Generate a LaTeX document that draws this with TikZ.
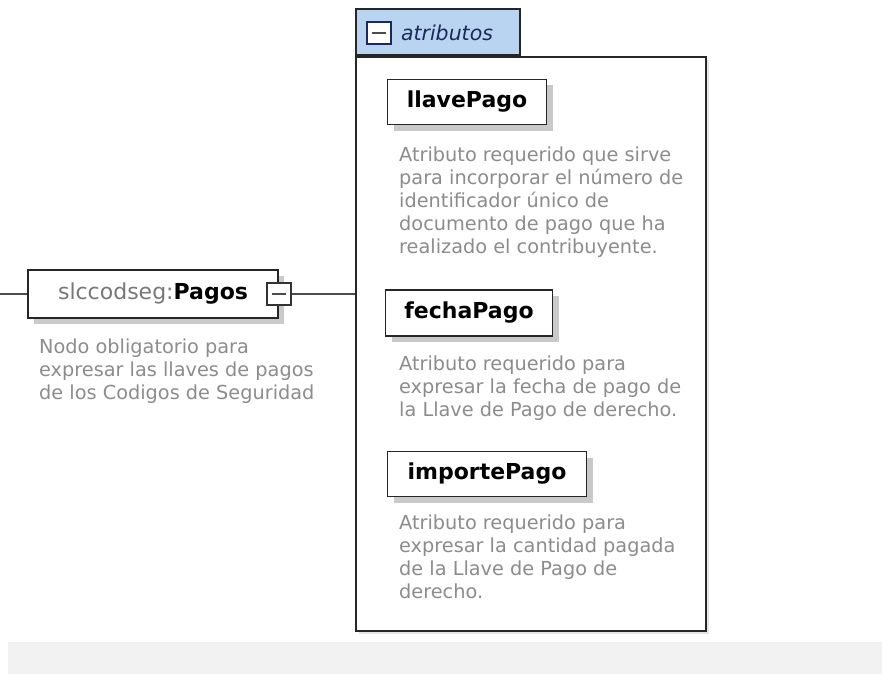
\documentclass[tikz,border=0pt]{standalone}
\usepackage{fontspec}
\setmainfont{DejaVu Sans}
\usepackage{xcolor}
\usetikzlibrary{positioning, shadows}

\definecolor{descgray}{RGB}{140,140,140}
\definecolor{nsgray}{RGB}{120,120,120}
\definecolor{tabblue}{RGB}{184,212,240}
\definecolor{tabtext}{RGB}{30,40,90}
\definecolor{bandgray}{RGB}{242,242,242}

\begin{document}
\begin{tikzpicture}[
      x=1pt, y=-1pt,
      elem/.style={rectangle, draw=black!85, line width=1.9pt, fill=white,
                   inner sep=0pt, font=\fontsize{22}{26}\selectfont\bfseries,
                   drop shadow={shadow xshift=6pt, shadow yshift=-6pt,
                                fill=black!35, opacity=0.6}},
      desc/.style={anchor=north west, inner sep=0pt, align=left,
                   text=descgray, font=\fontsize{19.3}{23}\selectfont},
      minbox/.style={rectangle, draw=black!80, line width=1.6pt, fill=white,
                     minimum width=24, minimum height=22, inner sep=0pt,
                     path picture={\draw[line width=1.8pt, black!70]
                       ([xshift=5pt]path picture bounding box.west) --
                       ([xshift=-5pt]path picture bounding box.east);}},
      wire/.style={line width=1.9pt, black!70}
    ]
    % Frame and bottom band
    \useasboundingbox (0,0) rectangle (882,674);
    \fill[bandgray] (8,642) rectangle (882,674);

    % Attributes group
    \node[rectangle, draw=black!85, line width=1.9pt, fill=white,
          minimum width=350, minimum height=574, anchor=north west, inner sep=0pt,
          drop shadow={shadow xshift=3pt, shadow yshift=-3pt, fill=black!20, opacity=0.5}]
          (grp) at (355,56) {};
    \node[rectangle, draw=black!85, line width=1.9pt, fill=tabblue,
          minimum width=164, minimum height=46, anchor=south west, inner sep=0pt]
          (tab) at (grp.north west) {};
    \node[minbox, draw=tabtext] (tabmin) at (379,33) {};
    \node[right=9pt of tabmin, inner sep=0pt, text=tabtext,
          font=\fontsize{20.5}{24}\selectfont\itshape] (tablbl) {atributos};

    % Element nodes
    \node[elem, minimum width=250, minimum height=48] (pagos) at (153,294)
      {\textcolor{nsgray}{\mdseries slccodseg:}Pagos\hspace{14pt}};
    \node[minbox] (pagosmin) at (pagos.east) {};
    \node[elem, minimum width=159, minimum height=45] (llave) at (467,102) {llavePago};
    \node[elem, minimum width=167, minimum height=46] (fecha) at (469,313) {fechaPago};
    \node[elem, minimum width=199, minimum height=45] (importe) at (487,474) {importePago};

    % Descriptions
    \node[desc] (pagosdesc) at (39,339)
      {Nodo obligatorio para\\expresar las llaves de pagos\\de los Codigos de Seguridad};
    \node[desc] (llavedesc) at (399,147)
      {Atributo requerido que sirve\\para incorporar el número de\\identificador único de\\documento de pago que ha\\realizado el contribuyente.};
    \node[desc] (fechadesc) at (399,356)
      {Atributo requerido para\\expresar la fecha de pago de\\la Llave de Pago de derecho.};
    \node[desc] (importedesc) at (399,515)
      {Atributo requerido para\\expresar la cantidad pagada\\de la Llave de Pago de\\derecho.};

    % Connectors
    \coordinate (stub) at (0,294);
    \draw[wire] (stub) -- (pagos.west);
    \draw[wire] (pagosmin.east) -- (pagosmin.east -| grp.west);

  \end{tikzpicture}
\end{document}
